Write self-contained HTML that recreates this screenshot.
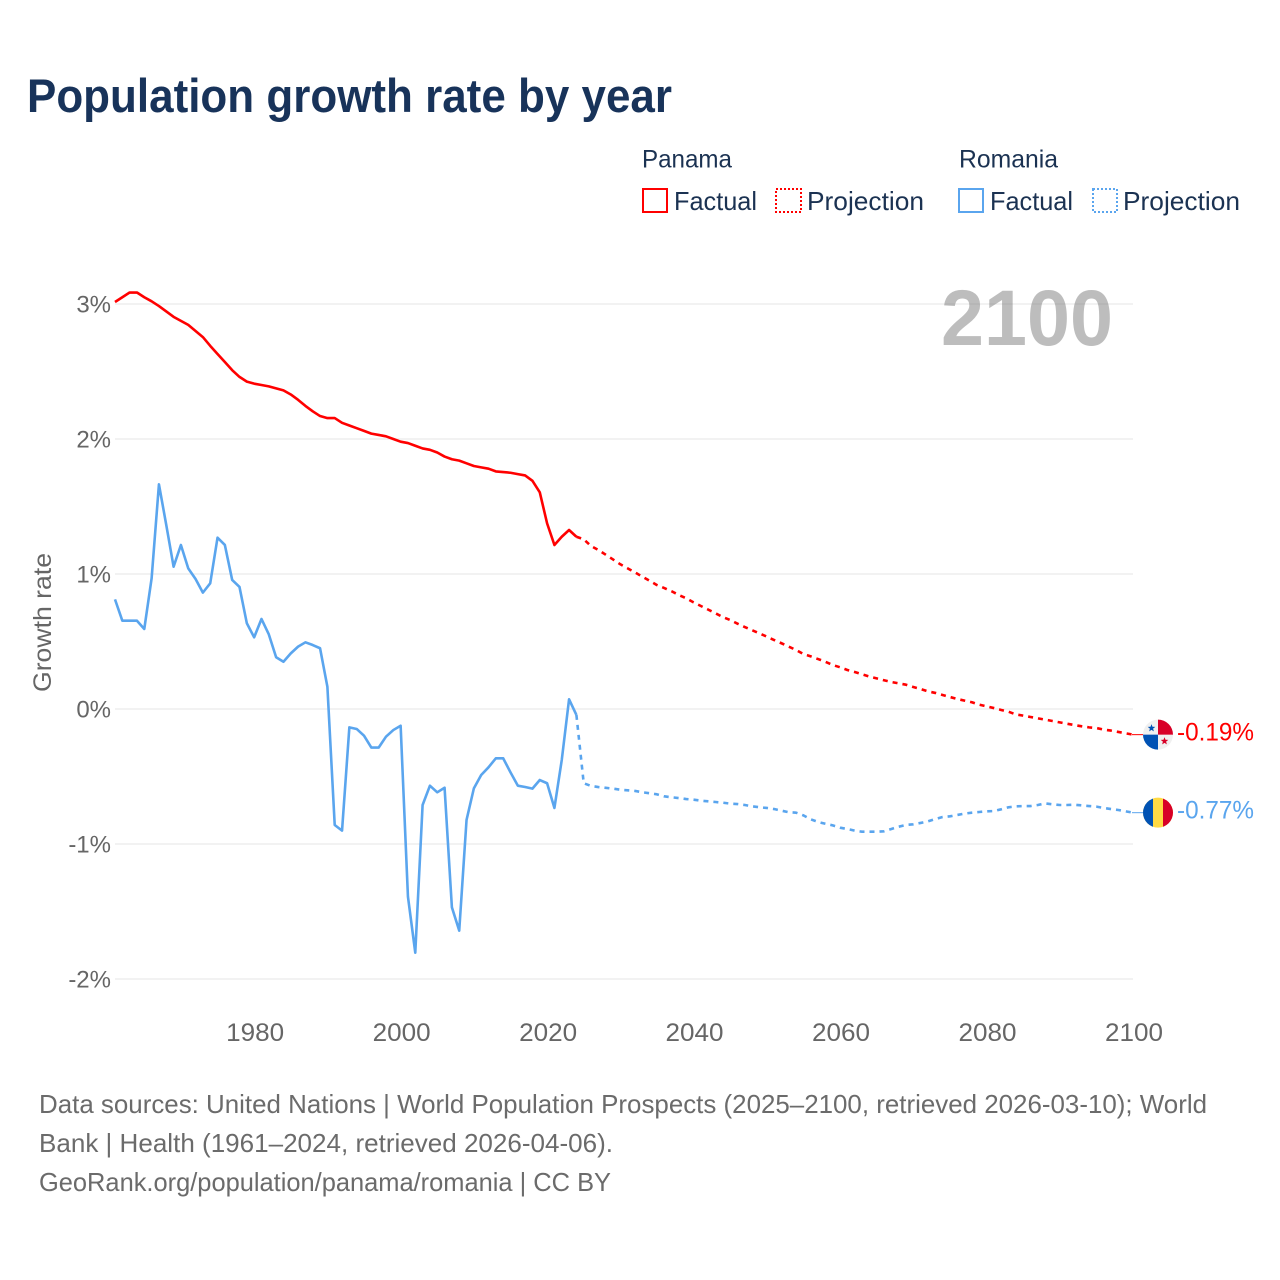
<!DOCTYPE html>
<html lang="en">
<head>
<meta charset="utf-8">
<title>Population growth rate by year</title>
<style>
html,body{margin:0;padding:0;background:#fff;}
svg{display:block;}
text{font-family:"Liberation Sans",sans-serif;}
</style>
</head>
<body>
<svg id="chart" xmlns="http://www.w3.org/2000/svg" width="1280" height="1280" viewBox="0 0 1280 1280">
  <defs>
    <clipPath id="flag-clip-a"><circle cx="0" cy="0" r="15"></circle></clipPath>
  </defs>
  <rect x="0" y="0" width="1280" height="1280" fill="#fff"></rect>
  <text x="27" y="112" font-size="47" font-weight="700" fill="#18335a" textLength="645" lengthAdjust="spacingAndGlyphs">Population growth rate by year</text>

  <g>
    <text x="642" y="167.5" font-size="25" fill="#1b3252" textLength="90" lengthAdjust="spacingAndGlyphs">Panama</text>
    <rect x="643" y="189" width="24" height="23" fill="none" stroke="#ff0000" stroke-width="2"></rect>
    <text x="674" y="210" font-size="26" fill="#1b3252" textLength="83" lengthAdjust="spacingAndGlyphs">Factual</text>
    <rect x="776" y="189" width="25" height="23" fill="none" stroke="#ff0000" stroke-width="2" stroke-dasharray="2 2"></rect>
    <text x="807" y="210" font-size="26" fill="#1b3252" textLength="117" lengthAdjust="spacingAndGlyphs">Projection</text>
    <text x="959" y="167.5" font-size="25" fill="#1b3252" textLength="99" lengthAdjust="spacingAndGlyphs">Romania</text>
    <rect x="959" y="189" width="24" height="23" fill="none" stroke="#5aa5ee" stroke-width="2"></rect>
    <text x="990" y="210" font-size="26" fill="#1b3252" textLength="83" lengthAdjust="spacingAndGlyphs">Factual</text>
    <rect x="1093" y="189" width="24" height="23" fill="none" stroke="#5aa5ee" stroke-width="2" stroke-dasharray="2 2"></rect>
    <text x="1123" y="210" font-size="26" fill="#1b3252" textLength="117" lengthAdjust="spacingAndGlyphs">Projection</text>
  </g>

  <g id="grid"></g>
  <g id="y-ticks"></g>
  <g id="x-ticks"></g>
  <text transform="translate(51,622.5) rotate(-90)" text-anchor="middle" font-size="25" fill="#666666" textLength="139" lengthAdjust="spacingAndGlyphs">Growth rate</text>
  <text x="941" y="345" font-size="79" font-weight="700" fill="#808080" fill-opacity="0.52" textLength="172" lengthAdjust="spacingAndGlyphs">2100</text>
  <g id="series"></g>
  <g id="end-labels"></g>

  <g font-size="26" fill="#6b6b6b">
    <text x="39" y="1113" textLength="1168" lengthAdjust="spacingAndGlyphs">Data sources: United Nations | World Population Prospects (2025–2100, retrieved 2026-03-10); World</text>
    <text x="39" y="1152" textLength="574" lengthAdjust="spacingAndGlyphs">Bank | Health (1961–2024, retrieved 2026-04-06).</text>
    <text x="39" y="1191" textLength="572" lengthAdjust="spacingAndGlyphs">GeoRank.org/population/panama/romania | CC BY</text>
  </g>
</svg>
<script>
const firstYear = 1961;
const lastYear = 2100;
const factualEndYear = 2024;
const xTickYears = [1980, 2000, 2020, 2040, 2060, 2080, 2100];
const yTickValues = [3, 2, 1, 0, -1, -2];

// Panama, 1961-2024
const panamaFactual = [
  3.015,3.05,3.085,3.085,3.05,3.02,2.985,2.945,2.905,2.875,
  2.845,2.80,2.755,2.69,2.63,2.57,2.51,2.46,2.425,2.41,
  2.40,2.39,2.375,2.36,2.33,2.29,2.245,2.205,2.17,2.155,
  2.155,2.12,2.10,2.08,2.06,2.04,2.03,2.02,2.0,1.98,
  1.97,1.95,1.93,1.92,1.90,1.87,1.85,1.84,1.82,1.80,
  1.79,1.78,1.76,1.755,1.75,1.74,1.73,1.69,1.605,1.375,
  1.215,1.276,1.326,1.276
];
// Panama, 2025-2100
const panamaProjection = [
  1.257,1.207,1.178,1.143,1.108,1.072,1.042,1.012,0.98,0.95,
  0.918,0.896,0.872,0.844,0.82,0.79,0.763,0.736,0.709,0.681,
  0.659,0.632,0.607,0.583,0.56,0.536,0.511,0.487,0.462,0.437,
  0.407,0.39,0.37,0.35,0.326,0.309,0.289,0.274,0.257,0.24,
  0.227,0.213,0.2,0.19,0.18,0.163,0.148,0.131,0.119,0.104,
  0.089,0.074,0.062,0.05,0.032,0.02,0.007,-0.007,-0.02,-0.04,
  -0.049,-0.059,-0.069,-0.079,-0.089,-0.099,-0.109,-0.119,-0.128,-0.136,
  -0.141,-0.153,-0.16,-0.17,-0.18,-0.19
];
// Romania, 1961-2024
const romaniaFactual = [
  0.812,0.654,0.654,0.654,0.593,0.968,1.664,1.363,1.054,1.215,
  1.042,0.963,0.862,0.931,1.269,1.215,0.956,0.904,0.635,0.531,
  0.667,0.553,0.383,0.35,0.412,0.462,0.494,0.474,0.45,0.165,
  -0.859,-0.901,-0.136,-0.148,-0.198,-0.286,-0.286,-0.205,-0.156,-0.124,
  -1.39,-1.805,-0.711,-0.568,-0.617,-0.583,-1.469,-1.642,-0.822,-0.588,
  -0.489,-0.432,-0.365,-0.365,-0.469,-0.568,-0.578,-0.59,-0.526,-0.55,
  -0.733,-0.378,0.072,-0.044
];
// Romania, 2025-2100
const romaniaProjection = [
  -0.55,-0.57,-0.578,-0.584,-0.59,-0.598,-0.602,-0.607,-0.617,-0.624,
  -0.632,-0.647,-0.654,-0.66,-0.667,-0.672,-0.679,-0.684,-0.689,-0.694,
  -0.701,-0.704,-0.711,-0.721,-0.728,-0.733,-0.741,-0.753,-0.765,-0.768,
  -0.788,-0.817,-0.837,-0.85,-0.862,-0.879,-0.889,-0.901,-0.909,-0.909,
  -0.909,-0.906,-0.889,-0.872,-0.859,-0.854,-0.844,-0.832,-0.815,-0.8,
  -0.795,-0.785,-0.775,-0.768,-0.763,-0.758,-0.756,-0.743,-0.728,-0.721,
  -0.719,-0.719,-0.711,-0.699,-0.706,-0.711,-0.711,-0.709,-0.714,-0.719,
  -0.723,-0.733,-0.741,-0.748,-0.758,-0.768
];

const NS = 'http://www.w3.org/2000/svg';
const plotLeft = 115, plotRight = 1133;
function xScale(year) { return plotLeft + (year - firstYear) * (plotRight - plotLeft) / (lastYear - firstYear); }
function yScale(value) { return 709 - value * 135; }
function make(tag, parent, attrs) {
  const el = document.createElementNS(NS, tag);
  for (const k in attrs) el.setAttribute(k, attrs[k]);
  parent.appendChild(el);
  return el;
}
function linePath(startYear, values) {
  return values.map(function (v, i) {
    return (i ? 'L' : 'M') + xScale(startYear + i).toFixed(2) + ' ' + yScale(v).toFixed(2);
  }).join(' ');
}

const grid = document.getElementById('grid');
const yTicks = document.getElementById('y-ticks');
const xTicks = document.getElementById('x-ticks');
const series = document.getElementById('series');
const endLabels = document.getElementById('end-labels');

yTickValues.forEach(function (v) {
  const g = make('line', grid, { x1: plotLeft, x2: plotRight, y1: yScale(v), y2: yScale(v), stroke: '#e9e9e9', 'stroke-width': 1.2 });
  
  
  const t = make('text', yTicks, { x: 111, y: yScale(v) + 8.5, 'text-anchor': 'end', 'font-size': 24, fill: '#666666' });
  t.textContent = v + '%';
  
  
});

xTickYears.forEach(function (yr) {
  const t = make('text', xTicks, { x: xScale(yr) + 1, y: 1041, 'text-anchor': 'middle', 'font-size': 25, fill: '#666666', textLength: 58, lengthAdjust: 'spacingAndGlyphs' });
  t.textContent = String(yr);
  
  
});

function drawSeries(key, color, factual, projection) {
  const solid = make('path', series, { d: linePath(firstYear, factual), fill: 'none', stroke: color, 'stroke-width': 2.6, 'stroke-linejoin': 'round' });
  
  
  const lastFactual = factual[factual.length - 1];
  const dashed = make('path', series, { d: linePath(factualEndYear, [lastFactual].concat(projection)), fill: 'none', stroke: color, 'stroke-width': 2.6, 'stroke-dasharray': '5 5', 'stroke-linejoin': 'round' });
  
  
}
drawSeries('panama', '#ff0000', panamaFactual, panamaProjection);
drawSeries('romania', '#5aa5ee', romaniaFactual, romaniaProjection);

function drawEnd(key, color, projection, flagFn) {
  const v = projection[projection.length - 1];
  const x = xScale(lastYear), y = yScale(v);
  const leader = make('line', endLabels, { x1: x - 1, x2: x + 12, y1: y, y2: y, stroke: color, 'stroke-width': 1 });
  
  
  const flag = make('g', endLabels, { transform: 'translate(' + (x + 25) + ',' + y + ')', 'clip-path': 'url(#flag-clip-a)' });
  
  
  flagFn(flag);
  const t = make('text', endLabels, { x: x + 44, y: y + 6, 'font-size': 25, fill: color, textLength: 77, lengthAdjust: 'spacingAndGlyphs' });
  t.textContent = v.toFixed(2) + '%';
  
  
}
function star(parent, cx, cy, r, fill) {
  const pts = [];
  for (let i = 0; i < 10; i++) {
    const a = -Math.PI / 2 + i * Math.PI / 5;
    const rr = i % 2 ? r * 0.42 : r;
    pts.push((cx + rr * Math.cos(a)).toFixed(2) + ',' + (cy + rr * Math.sin(a)).toFixed(2));
  }
  make('polygon', parent, { points: pts.join(' '), fill: fill });
}
drawEnd('panama', '#ff0000', panamaProjection, function (f) {
  make('rect', f, { x: -16, y: -16, width: 32, height: 32, fill: '#f0f0f0' });
  make('rect', f, { x: 0, y: -16, width: 16, height: 16, fill: '#d80027' });
  make('rect', f, { x: -16, y: 0, width: 16, height: 16, fill: '#0052b4' });
  star(f, -6.5, -6.5, 4, '#0052b4');
  star(f, 6.5, 6.5, 4, '#d80027');
});
drawEnd('romania', '#5aa5ee', romaniaProjection, function (f) {
  make('rect', f, { x: -16, y: -16, width: 32, height: 32, fill: '#ffda44' });
  make('rect', f, { x: -16, y: -16, width: 11, height: 32, fill: '#0052b4' });
  make('rect', f, { x: 5, y: -16, width: 11, height: 32, fill: '#d80027' });
});
</script>
</body>
</html>
